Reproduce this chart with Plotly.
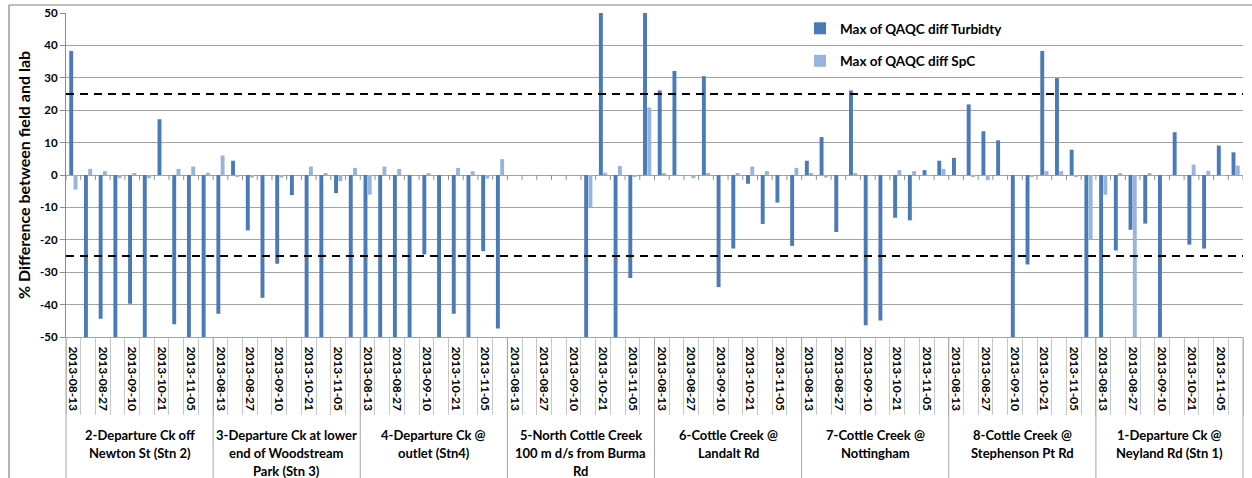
import plotly.graph_objects as go

# ---------------- data ----------------
DATES = ["2013-08-13", "2013-08-20", "2013-08-27", "2013-09-03", "2013-09-10",
         "2013-09-24", "2013-10-21", "2013-10-29", "2013-11-05", "2013-11-19"]
LABELED_DATES = ["2013-08-13", "2013-08-27", "2013-09-10", "2013-10-21", "2013-11-05"]

SITES = [
    ["2-Departure Ck off", "Newton St (Stn 2)"],
    ["3-Departure Ck at lower", "end of Woodstream", "Park (Stn 3)"],
    ["4-Departure Ck @", "outlet (Stn4)"],
    ["5-North Cottle Creek", "100 m d/s from Burma", "Rd"],
    ["6-Cottle Creek @", "Landalt Rd"],
    ["7-Cottle Creek @", "Nottingham"],
    ["8-Cottle Creek @", "Stephenson Pt Rd"],
    ["1-Departure Ck @", "Neyland Rd (Stn 1)"],
]

TURB_STN2 = [38.3, -50, -44.4, -50, -39.7, -50, 17.2, -46.1, -50, -50]
TURB_STN3 = [-42.8, 4.4, -17.1, -37.9, -27.4, -6.2, -50, -50, -5.6, -50]
TURB_STN4 = [-50, -50, -50, -50, -24.5, -50, -42.8, -50, -23.5, -47.4]
TURB_NCC = [None, None, None, None, None, -50, 50, -50, -31.8, 50]
TURB_LANDALT = [26.1, 32.1, None, 30.5, -34.6, -22.7, -2.7, -15.1, -8.5, -21.9]
TURB_NOTT = [4.4, 11.7, -17.6, 26.1, -46.4, -44.9, -13.2, -14.0, 1.5, 4.4]
TURB_STEPH = [5.3, 21.8, 13.5, 10.7, -50, -27.6, 38.3, 29.9, 7.8, -50]
TURB_STN1 = [-50, -23.3, -16.9, -15.0, -50, 13.2, -21.5, -22.7, 9.1, 7.0]

SPC_STN2 = [-4.5, 1.9, 1.2, -1.0, 0.4, -1.0, None, 1.9, 2.6, 0.7]
SPC_STN3 = [6.0, -0.4, -0.8, None, -0.8, None, 2.6, 0.6, -1.9, 2.2]
SPC_STN4 = [-6.1, 2.6, 1.9, None, 0.4, None, 2.2, 1.2, -1.1, 4.9]
SPC_NCC = [None, None, None, None, None, -9.9, 0.7, 2.8, -0.6, 20.8]
SPC_LANDALT = [0.4, None, -1.0, 0.4, None, 0.4, 2.6, 1.2, None, 2.2]
SPC_NOTT = [0.4, -0.8, None, 0.6, -0.3, -0.2, 1.5, 1.2, -0.3, 1.9]
SPC_STEPH = [None, -0.4, -1.6, None, None, -0.6, 1.2, 1.2, -0.4, -20.0]
SPC_STN1 = [-6.1, 0.4, -50, 0.6, -0.3, None, 3.2, 1.3, -0.3, 2.9]

THRESHOLDS = [25, -25]
Y_TICKS = [50, 40, 30, 20, 10, 0, -10, -20, -30, -40, -50]

TURB = [TURB_STN2, TURB_STN3, TURB_STN4, TURB_NCC, TURB_LANDALT, TURB_NOTT, TURB_STEPH, TURB_STN1]
SPC = [SPC_STN2, SPC_STN3, SPC_STN4, SPC_NCC, SPC_LANDALT, SPC_NOTT, SPC_STEPH, SPC_STN1]

# ---------------- build ----------------
n_per = len(DATES)
n_cat = n_per * len(SITES)
xs = list(range(n_cat))
turb_all = [v for grp in TURB for v in grp]
spc_all = [v for grp in SPC for v in grp]
hover = [f"{' '.join(SITES[i // n_per])}<br>{DATES[i % n_per]}" for i in xs]

W, H = 1252, 478
ML, MR, MT, MB = 66, 9, 13, 141
PW, PH = W - ML - MR, H - MT - MB


def px_x(px):
    return (px - ML) / PW


def px_y(py):
    return (H - MB - py) / PH


def b(s):
    return f"<b>{s}</b>"


FONT = "Lato"
DARK = "#4a7bb7"
LIGHT = "#98b4dc"
GRID = "#a3a3a3"

fig = go.Figure()
fig.add_trace(go.Bar(x=xs, y=turb_all, name=b("Max of QAQC diff Turbidty"),
                     marker=dict(color=DARK, line=dict(width=0)),
                     legendgroup="a", hovertext=hover))
fig.add_trace(go.Bar(x=xs, y=spc_all, name=b("Max of QAQC diff SpC"),
                     marker=dict(color=LIGHT, line=dict(width=0)),
                     legendgroup="b", hovertext=hover))

tickvals = [i for i in xs if DATES[i % n_per] in LABELED_DATES]
ticktext = [b(DATES[i % n_per]) for i in tickvals]

shapes = []
# threshold lines
for t in THRESHOLDS:
    shapes.append(dict(type="line", xref="paper", yref="y", x0=0, x1=1, y0=t, y1=t,
                       line=dict(color="black", width=2, dash="8px,6px"), layer="above"))
# small ticks on the zero line at each category boundary
for k in range(n_cat + 1):
    shapes.append(dict(type="line", xref="x", yref="y", x0=k - 0.5, x1=k - 0.5, y0=0, y1=-1.5,
                       line=dict(color="#8c8c8c", width=1), layer="above"))
# group separators in the label area
for g in range(len(SITES) + 1):
    xp = g * n_per / n_cat
    shapes.append(dict(type="line", xref="paper", yref="paper", x0=xp, x1=xp, y0=0, y1=px_y(H + 2),
                       line=dict(color="#a6a6a6", width=1)))
# chart-area border (top and left)
shapes.append(dict(type="line", xref="paper", yref="paper", x0=px_x(9), x1=px_x(W + 2),
                   y0=px_y(5), y1=px_y(5), line=dict(color="#808080", width=1.2)))
shapes.append(dict(type="line", xref="paper", yref="paper", x0=px_x(9), x1=px_x(9),
                   y0=px_y(5), y1=px_y(H + 2), line=dict(color="#808080", width=1.2)))

annotations = []
for g, lines in enumerate(SITES):
    for j, line in enumerate(lines):
        annotations.append(dict(text=b(line), xref="x", yref="paper", x=g * n_per + (n_per - 1) / 2,
                                y=px_y(435 + 18 * j), xanchor="center", yanchor="middle",
                                showarrow=False, font=dict(family=FONT, size=13, color="black")))

fig.update_layout(
    width=W, height=H,
    margin=dict(l=ML, r=MR, t=MT, b=MB, autoexpand=False),
    paper_bgcolor="white", plot_bgcolor="white",
    font=dict(family=FONT, color="black"),
    barmode="group", bargap=0.42, bargroupgap=0.08,
    showlegend=True,
    legend=dict(x=px_x(800), y=px_y(13), xanchor="left", yanchor="top",
                bgcolor="rgba(0,0,0,0)", tracegroupgap=12,
                font=dict(family=FONT, size=13.5, color="black")),
    shapes=shapes, annotations=annotations,
    xaxis=dict(range=[-0.5, n_cat - 0.5], tickmode="array", tickvals=tickvals, ticktext=ticktext,
               tickangle=90, ticks="", ticklabelstandoff=6, showgrid=False, zeroline=False,
               showline=True, linecolor=GRID, linewidth=1, automargin=False,
               tickfont=dict(family=FONT, size=12, color="black"),
               minor=dict(tickmode="array", tickvals=[k - 0.5 for k in range(n_cat + 1)],
                          ticks="outside", ticklen=77, tickcolor="#c8c8c8", tickwidth=1, showgrid=False)),
    yaxis=dict(range=[-50, 50], tickmode="array", tickvals=Y_TICKS, ticktext=[b(v) for v in Y_TICKS],
               ticks="outside", ticklen=5, tickcolor="#8c8c8c", showgrid=True, gridcolor=GRID,
               gridwidth=1.3, zeroline=True, zerolinecolor=GRID, zerolinewidth=1.3,
               showline=True, linecolor="#8c8c8c", linewidth=1, automargin=False,
               tickfont=dict(family=FONT, size=11.5, color="black"),
               title=dict(text=b("% Difference between field and lab"), standoff=5,
                          font=dict(family=FONT, size=16, color="black"))),
)

fig.write_html("out.html", config={"displayModeBar": False},
               post_script="document.body.style.margin='0px';")
